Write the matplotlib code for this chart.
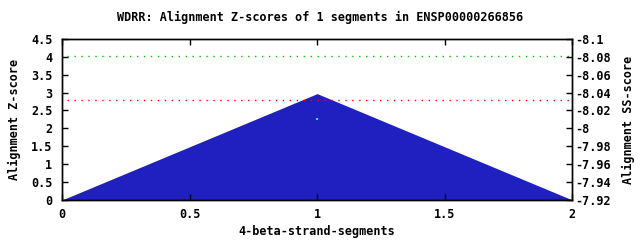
import matplotlib
matplotlib.use('Agg')
import matplotlib.pyplot as plt

# Datos
seg_x = [0, 1, 2]
zscore = [0, 2.97, 0]
green_level = 4.03
red_level = 2.78
point_x = [1]
point_y = [2.25]

yticks = [0, 0.5, 1, 1.5, 2, 2.5, 3, 3.5, 4, 4.5]
ytick_labels = ['0', '0.5', '1', '1.5', '2', '2.5', '3', '3.5', '4', '4.5']
y2ticks = [-7.92, -7.94, -7.96, -7.98, -8, -8.02, -8.04, -8.06, -8.08, -8.1]
xticks = [0, 0.5, 1, 1.5, 2]
xtick_labels = ['0', '0.5', '1', '1.5', '2']

plt.rcParams['font.family'] = 'DejaVu Sans Mono'
plt.rcParams['font.weight'] = 'bold'
plt.rcParams['font.size'] = 8.5

fig = plt.figure(figsize=(6.4, 2.4), dpi=100)
ax = fig.add_axes([0.097, 0.167, 0.797, 0.671])

ax.fill_between(seg_x, zscore, 0, color='#2020c0', linewidth=0)
# líneas punteadas de referencia (empiezan un poco después del eje)
ax.hlines(green_level, 0.02, 2, color='#00c000', linestyle=(0, (1, 4)), linewidth=1)
ax.hlines(red_level, 0.02, 2, color='#ff0000', linestyle=(0, (1, 4)), linewidth=1)
ax.plot(point_x, point_y, 's', color='#00ffff', markersize=1.5, markeredgewidth=0)

ax.set_xlim(0, 2)
ax.set_ylim(0, 4.5)
ax.set_xticks(xticks)
ax.set_xticklabels(xtick_labels)
ax.set_yticks(yticks)
ax.set_yticklabels(ytick_labels)
ax.tick_params(direction='in', length=4, width=1, top=True)
ax.tick_params(axis='x', pad=6)
ax.tick_params(axis='y', pad=7)
ax.set_xlabel('4-beta-strand-segments', fontweight='bold', labelpad=3)
ax.set_ylabel('Alignment Z-score', fontweight='bold', labelpad=7)

# Eje secundario: SS-score invertido
ax2 = ax.twinx()
ax2.set_ylim(-7.92, -8.1)
ax2.set_yticks(y2ticks)
ax2.set_yticklabels([f'{v:g}' for v in y2ticks])
ax2.tick_params(direction='in', length=4, width=1, pad=2)
ax2.set_ylabel('Alignment SS-score', fontweight='bold', labelpad=8)

for a in (ax, ax2):
    for s in a.spines.values():
        s.set_linewidth(1)

fig.suptitle('WDRR: Alignment Z-scores of 1 segments in ENSP00000266856',
             fontweight='bold', fontsize=8.5, y=0.955)

fig.savefig('out.png', dpi=100)
